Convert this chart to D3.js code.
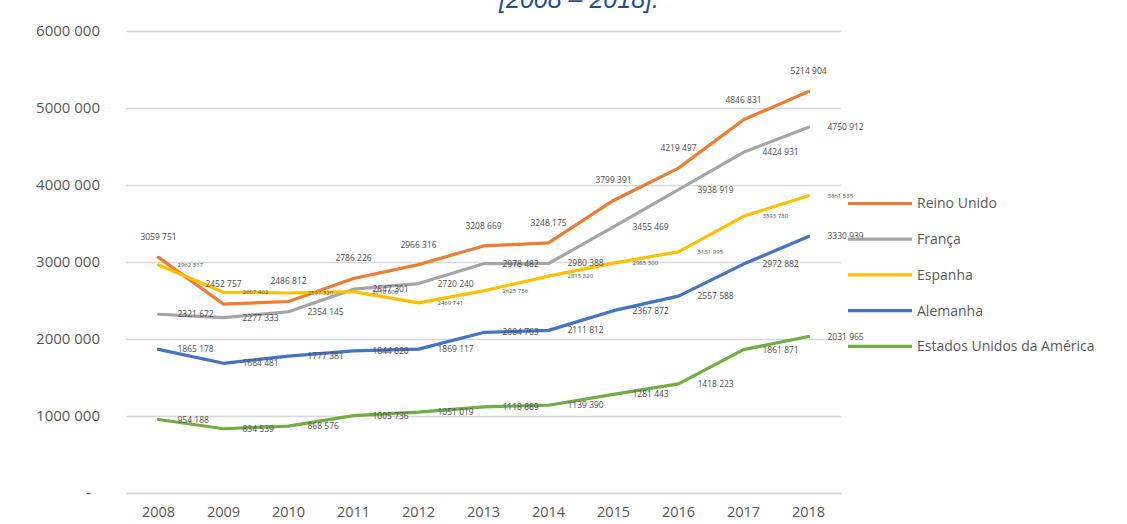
<!DOCTYPE html>
<html>
<head>
<meta charset="utf-8">
<script src="https://cdn.jsdelivr.net/npm/d3@7"></script>
<style>
  html, body { margin: 0; padding: 0; background: #ffffff; }
  svg { display: block; }
</style>
</head>
<body>
<svg id="chart" width="1127" height="524"></svg>
<script>
// ---------- DATA ----------
const years = ["2008","2009","2010","2011","2012","2013","2014","2015","2016","2017","2018"];
const seriesNames = ["Reino Unido","França","Espanha","Alemanha","Estados Unidos da América"];
const reinoUnido = [3059751, 2452757, 2486812, 2786226, 2966316, 3208669, 3248175, 3799391, 4219497, 4846831, 5214904];
const franca     = [2321672, 2277333, 2354145, 2647301, 2720240, 2978482, 2980388, 3455469, 3938919, 4424931, 4750912];
const espanha    = [2962317, 2607402, 2597320, 2616000, 2469741, 2625756, 2815820, 2985300, 3131995, 3593780, 3861535];
const alemanha   = [1865178, 1684481, 1777381, 1844820, 1869117, 2084763, 2111812, 2367872, 2557588, 2972882, 3330939];
const eua        = [954188, 834539, 868576, 1005736, 1051019, 1118889, 1139390, 1281443, 1418223, 1861871, 2031965];
const yTickValues = [0, 1000000, 2000000, 3000000, 4000000, 5000000, 6000000];
const yTickLabels = ["-", "1000 000", "2000 000", "3000 000", "4000 000", "5000 000", "6000 000"];
const titleText = "[2008 – 2018].";

// ---------- STYLE ----------
const colors = ["#ED7D31", "#A5A5A5", "#FFC000", "#4472C4", "#70AD47"];
const labelStyle = [
  {pos: "above", size: 8.5},
  {pos: "right", size: 8.5},
  {pos: "right", size: 6},
  {pos: "right", size: 8.5},
  {pos: "right", size: 8.5}
];
const allSeries = [reinoUnido, franca, espanha, alemanha, eua];

const svg = d3.select("#chart");
const plotLeft = 126, plotRight = 841, plotTop = 31, plotBottom = 493;

const x = d3.scaleBand().domain(years).range([plotLeft, plotRight]).padding(0);
const y = d3.scaleLinear().domain([0, 6000000]).range([plotBottom, plotTop]);
const cx = d => x(d) + x.bandwidth() / 2;

// title (partially cut off at top, as in the source)
svg.append("text")
  .attr("x", 579).attr("y", 8)
  .attr("text-anchor", "middle")
  .attr("font-family", "Liberation Sans, Arial, sans-serif")
  .attr("font-style", "italic")
  .attr("font-size", 25)
  .attr("fill", "#24508f")
  .text(titleText);

// gridlines + y labels
const yAxis = d3.axisLeft(y)
  .tickValues(yTickValues)
  .tickSize(-(plotRight - plotLeft))
  .tickPadding(26)
  .tickFormat((d, i) => yTickLabels[i]);
const gy = svg.append("g").attr("transform", `translate(${plotLeft},0)`).call(yAxis);
gy.select(".domain").remove();
gy.selectAll(".tick line").attr("stroke", "#D9D9D9").attr("stroke-width", 1.3);
gy.selectAll(".tick text")
  .attr("font-family", "Open Sans, sans-serif")
  .attr("font-size", 15)
  .attr("fill", "#595959")
  .attr("dx", d => d === 0 ? -9 : 0);

// x axis
const xAxis = d3.axisBottom(x).tickSize(0).tickPadding(14);
const gx = svg.append("g").attr("transform", `translate(0,${plotBottom})`).call(xAxis);
gx.select(".domain").attr("stroke", "#D9D9D9").attr("stroke-width", 1.3);
gx.selectAll(".tick text")
  .attr("font-family", "Open Sans, sans-serif")
  .attr("font-size", 14.5)
  .attr("fill", "#595959");

// lines
const line = d3.line().x((d, i) => cx(years[i])).y(d => y(d));
allSeries.forEach((vals, si) => {
  svg.append("path")
    .datum(vals)
    .attr("fill", "none")
    .attr("stroke", colors[si])
    .attr("stroke-width", 3.2)
    .attr("stroke-linejoin", "round")
    .attr("stroke-linecap", "round")
    .attr("d", line);
});

// data labels
function fmt(v) {
  const hi = Math.floor(v / 1000);
  const lo = String(v % 1000).padStart(3, "0");
  return hi + " " + lo;
}
allSeries.forEach((vals, si) => {
  const st = labelStyle[si];
  svg.append("g").selectAll("text")
    .data(vals)
    .join("text")
    .attr("x", (d, i) => st.pos === "above" ? cx(years[i]) : cx(years[i]) + 19)
    .attr("y", d => st.pos === "above" ? y(d) - 20 : y(d))
    .attr("dy", "0.35em")
    .attr("text-anchor", st.pos === "above" ? "middle" : "start")
    .attr("font-family", "Open Sans, sans-serif")
    .attr("font-size", st.size)
    .attr("fill", "#505050")
    .text(d => fmt(d));
});

// legend
const lg = svg.append("g");
seriesNames.forEach((name, i) => {
  const ly = 203.5 + i * 35.7;
  lg.append("line")
    .attr("x1", 848).attr("x2", 912)
    .attr("y1", ly).attr("y2", ly)
    .attr("stroke", colors[i]).attr("stroke-width", 3.2);
  lg.append("text")
    .attr("x", 917).attr("y", ly)
    .attr("dy", "0.35em")
    .attr("font-family", "Open Sans, sans-serif")
    .attr("font-size", 14)
    .attr("fill", "#595959")
    .text(name);
});
</script>
</body>
</html>
